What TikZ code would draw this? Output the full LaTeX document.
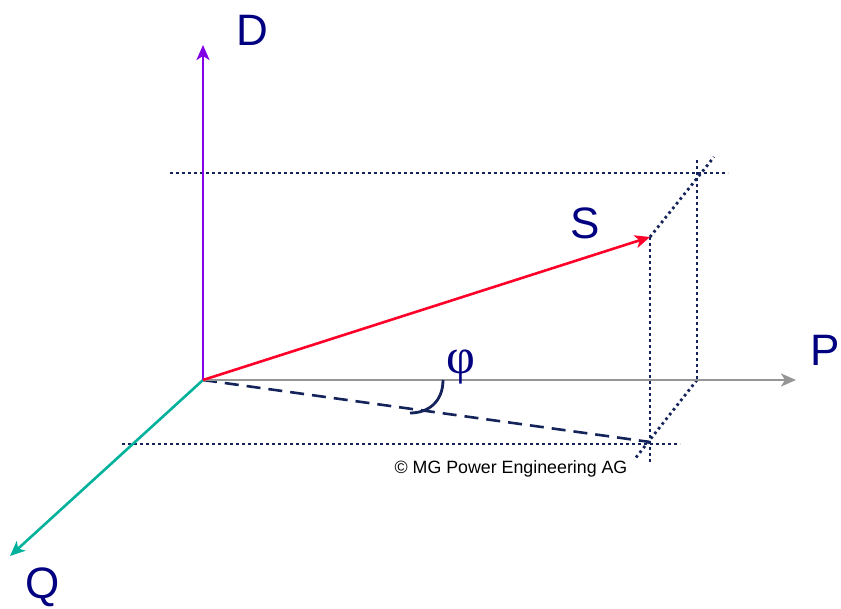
\documentclass[tikz,border=0pt]{standalone}
\usepackage{fontspec}
\setmainfont{Liberation Sans}
\newfontfamily\serifgr{Liberation Serif}
\usetikzlibrary{arrows.meta}
\definecolor{navy}{RGB}{0,0,128}
\definecolor{dotnavy}{RGB}{20,35,90}
\definecolor{axpurple}{RGB}{130,0,230}
\definecolor{axred}{RGB}{255,0,40}
\definecolor{axteal}{RGB}{0,178,155}
\definecolor{axgrey}{RGB}{150,150,150}
\tikzset{
  axis/.style={line width=2.6pt,-{Stealth[length=15pt,width=13pt,inset=4pt]}},
  dotline/.style={dotnavy,line width=2.8pt,dash pattern=on 2.6pt off 3.4pt},
  dashline/.style={dotnavy,line width=2.6pt,dash pattern=on 14pt off 8pt},
  lbl/.style={navy,font=\fontsize{44}{44}\selectfont,anchor=base,inner sep=0pt},
}
\begin{document}
\begin{tikzpicture}[x=1pt,y=-1pt]
\useasboundingbox (0,0) rectangle (841,608);
\coordinate (O) at (203,380);
\coordinate (Dt) at (203,45);
\coordinate (Pt) at (796,380);
\coordinate (Qt) at (10,556);
\coordinate (St) at (650,237);
\coordinate (Sp) at (650,442);
% dotted construction lines
\coordinate (h1a) at (170,173); \coordinate (h1b) at (728,173);
\coordinate (h2a) at (122,444); \coordinate (h2b) at (680,444);
\coordinate (v1a) at (650,237); \coordinate (v1b) at (650,463);
\coordinate (v2a) at (697,160); \coordinate (v2b) at (697,380);
\coordinate (d1a) at (650,237); \coordinate (d1b) at (714,157);
\coordinate (d2a) at (697,380); \coordinate (d2b) at (634,460);
\draw[dotline] (h1a) -- (h1b);
\draw[dotline] (h2a) -- (h2b);
\draw[dotline] (v1a) -- (v1b);
\draw[dotline] (v2a) -- (v2b);
\draw[dotline] (d1a) -- (d1b);
\draw[dotline] (d2a) -- (d2b);
% dashed projection
\draw[dashline] (O) -- (Sp);
% axes
\draw[axis,axgrey] (O) -- (Pt);
\draw[axis,axteal] (O) -- (Qt);
\draw[axis,axpurple] (O) -- (Dt);
\draw[axis,axred] (O) -- (St);
% angle
\coordinate (a1) at (443,380);
\coordinate (a2) at (410,413);
\draw[dotnavy,line width=2.8pt] (a1) .. controls (443,402) and (428,413) .. (a2);
\node[navy,anchor=base,inner sep=0pt,font=\serifgr\fontsize{50}{50}\selectfont] (phi) at (461,373) {φ};
% labels
\node[lbl] (D) at (252,45) {D};
\node[lbl] (P) at (825,365) {P};
\node[lbl] (S) at (585,238) {S};
\node[lbl] (Q) at (43,598) {Q};
\node[anchor=base,inner sep=0pt,font=\fontsize{17.8}{17.8}\selectfont] (copy) at (511,473) {© MG Power Engineering AG};
\end{tikzpicture}
\end{document}
